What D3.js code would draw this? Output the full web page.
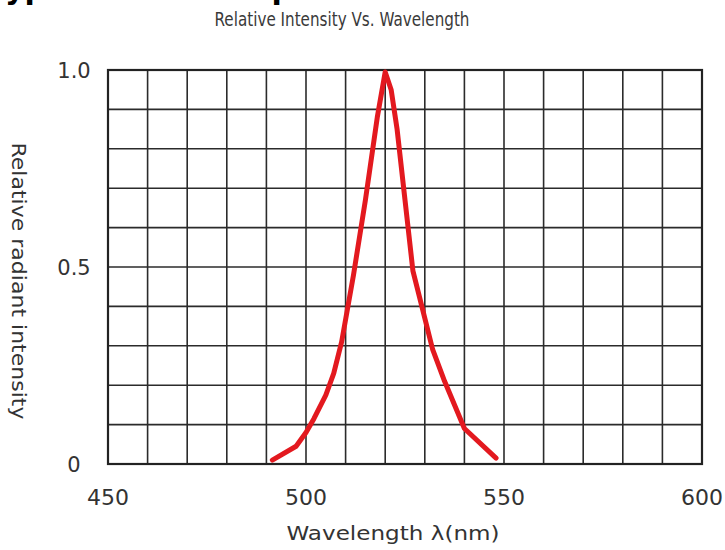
<!DOCTYPE html>
<html>
<head>
<meta charset="utf-8">
<script src="https://cdn.jsdelivr.net/npm/d3@7"></script>
<style>
  html, body { margin: 0; padding: 0; background: #fff; }
  svg { display: block; }
  text { font-family: "DejaVu Sans", sans-serif; }
</style>
</head>
<body>
<svg id="chart" width="725" height="550"></svg>
<script>
// ---- data ----
const heading = "Typical Electro-Optical Characteristics Curves";
const title = "Relative Intensity Vs. Wavelength";
const xLabel = "Wavelength \u03bb(nm)";
const yLabel = "Relative radiant intensity";
const xTicks = [450, 500, 550, 600];
const yTicks = [0, 0.5, 1.0];
const yTickLabels = ["0", "0.5", "1.0"];
const wavelength = [491.5, 497.5, 500, 502, 505, 507, 509, 512, 515, 518, 520, 521.5, 523, 525, 527, 529, 532, 535, 540, 548];
const intensity  = [0.01, 0.045, 0.08, 0.115, 0.175, 0.23, 0.31, 0.48, 0.67, 0.88, 0.995, 0.95, 0.85, 0.67, 0.49, 0.41, 0.29, 0.21, 0.09, 0.015];

// ---- layout ----
const svg = d3.select("#chart");
const x = d3.scaleLinear().domain([450, 600]).range([108, 702]);
const y = d3.scaleLinear().domain([0, 1]).range([464, 70]);

// heading, cut off at the top edge as in the reference
svg.append("text")
  .attr("x", -12).attr("y", -1)
  .attr("font-family", "Liberation Sans, Arial, sans-serif")
  .attr("font-weight", "bold").attr("font-size", 30)
  .attr("fill", "#000")
  .text(heading);

// title
svg.append("text")
  .attr("x", 342).attr("y", 26)
  .attr("text-anchor", "middle")
  .attr("font-size", 19).attr("fill", "#3a3a3a")
  .attr("textLength", 255).attr("lengthAdjust", "spacingAndGlyphs")
  .text(title);

// grid
const grid = svg.append("g").attr("stroke", "#2b2b2b").attr("stroke-width", 1.6);
grid.selectAll("line.v").data(d3.range(460, 600, 10)).join("line")
  .attr("class", "v")
  .attr("x1", d => x(d)).attr("x2", d => x(d))
  .attr("y1", y(0)).attr("y2", y(1));
grid.selectAll("line.h").data(d3.range(1, 10).map(d => d / 10)).join("line")
  .attr("class", "h")
  .attr("x1", x(450)).attr("x2", x(600))
  .attr("y1", d => y(d)).attr("y2", d => y(d));
svg.append("rect")
  .attr("x", x(450)).attr("y", y(1))
  .attr("width", x(600) - x(450)).attr("height", y(0) - y(1))
  .attr("fill", "none").attr("stroke", "#222").attr("stroke-width", 2.2);

// x tick labels
svg.selectAll("text.xt").data(xTicks).join("text")
  .attr("class", "xt")
  .attr("x", d => x(d)).attr("y", 505)
  .attr("text-anchor", "middle")
  .attr("font-size", 22).attr("fill", "#333")
  .text(d => d);

// y tick labels
svg.selectAll("text.yt").data(yTicks).join("text")
  .attr("class", "yt")
  .attr("x", 74).attr("y", d => y(d) + 8)
  .attr("text-anchor", "middle")
  .attr("font-size", 21).attr("fill", "#333")
  .text((d, i) => yTickLabels[i]);

// axis labels
svg.append("text")
  .attr("x", 393).attr("y", 540)
  .attr("text-anchor", "middle")
  .attr("font-size", 20).attr("fill", "#333")
  .attr("textLength", 213).attr("lengthAdjust", "spacingAndGlyphs")
  .text(xLabel);

svg.append("text")
  .attr("transform", "translate(12,281) rotate(90)")
  .attr("text-anchor", "middle")
  .attr("font-size", 19).attr("fill", "#333")
  .attr("textLength", 277).attr("lengthAdjust", "spacingAndGlyphs")
  .text(yLabel);

// curve
const pts = wavelength.map((w, i) => [w, intensity[i]]);
const line = d3.line().x(d => x(d[0])).y(d => y(d[1]));
svg.append("path")
  .attr("d", line(pts))
  .attr("fill", "none")
  .attr("stroke", "#e3191f")
  .attr("stroke-width", 5)
  .attr("stroke-linejoin", "round")
  .attr("stroke-linecap", "round");
</script>
</body>
</html>
